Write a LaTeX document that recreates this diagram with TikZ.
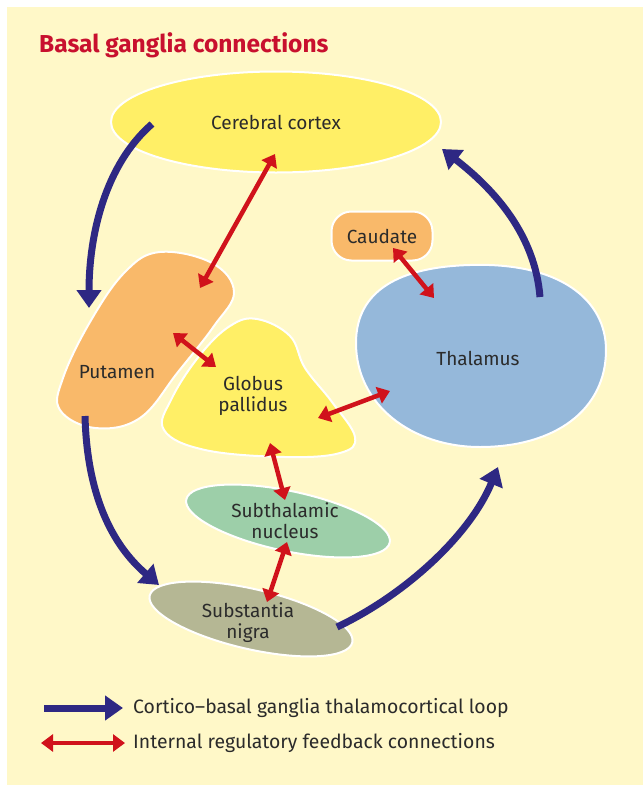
\documentclass[tikz,border=0pt]{standalone}
\usepackage{fontspec}
\setmainfont{Fira Sans}
\usepackage{xcolor}
\usetikzlibrary{arrows.meta,shapes.geometric}
\definecolor{panel}{HTML}{FFF8C8}
\definecolor{cortexyel}{HTML}{FFEF66}
\definecolor{putorange}{HTML}{F9B96A}
\definecolor{thalblue}{HTML}{95B8DA}
\definecolor{stngreen}{HTML}{9DCFA9}
\definecolor{snolive}{HTML}{B5B794}
\definecolor{loopblue}{HTML}{2E2883}
\definecolor{fbred}{HTML}{D0121B}
\definecolor{titlered}{HTML}{C8102E}
\definecolor{txt}{HTML}{2B2B2B}
\tikzset{
  brainpart/.style={draw=white,line width=2pt},
  lbl/.style={text=txt,font=\fontsize{19}{21}\selectfont,align=center,inner sep=0pt},
  cbgloop/.style={draw=loopblue,line width=7pt,-{Triangle[length=18pt,width=24pt]}},
  feedback/.style={draw=fbred,line width=4.5pt,{Triangle[length=12pt,width=17pt]}-{Triangle[length=12pt,width=17pt]}},
}

\begin{document}
\begin{tikzpicture}[x=1pt,y=-1pt]
\useasboundingbox (0,0) rectangle (643,785);
\fill[panel] (7,7) rectangle (643,785);
\node[anchor=west,text=titlered,font=\fontsize{24.5}{27}\selectfont\bfseries,inner sep=0pt] (title) at (39,45) {Basal ganglia connections};

% regions
\node[ellipse,brainpart,fill=cortexyel,minimum width=330pt,minimum height=101pt,inner sep=0pt] (cortex) at (276,122) {};
\node[rectangle,rounded corners=20pt,brainpart,fill=putorange,minimum width=101pt,minimum height=49pt] (caudate) at (382,236) {};
\draw[brainpart,fill=thalblue] (470,265) .. controls (560,262) and (606,300) .. (606,350)
  .. controls (606,410) and (555,447) .. (480,447) .. controls (412,447) and (356,405) .. (356,343)
  .. controls (356,290) and (400,267) .. cycle;
\draw[brainpart,fill=putorange] plot[smooth cycle,tension=0.65] coordinates {(160,252) (212,263) (234,292) (214,326) (178,372) (140,418) (95,428) (60,410) (63,378) (90,322) (125,272)};
\draw[brainpart,fill=cortexyel] plot[smooth cycle,tension=0.65] coordinates {(257,319) (290,336) (305,368) (332,402) (355,437) (340,453) (285,457) (205,450) (164,430) (172,398) (200,355) (230,326)};
\node[ellipse,brainpart,fill=stngreen,minimum width=208pt,minimum height=60pt,inner sep=0pt,rotate=-12] (stn) at (288,521) {};
\node[ellipse,brainpart,fill=snolive,minimum width=208pt,minimum height=60pt,inner sep=0pt,rotate=-13] (nigra) at (251,619) {};

% labels
\node[lbl] (cortexlbl) at (cortex.center) {Cerebral cortex};
\node[lbl] (caudatelbl) at (caudate.center) {Caudate};
\node[lbl] (thallbl) at (478,358) {Thalamus};
\node[lbl] (putlbl) at (117,372) {Putamen};
\node[lbl] (gplbl) at (253,396) {Globus\\pallidus};
\node[lbl] (stnlbl) at (285,521) {Subthalamic\\nucleus};
\node[lbl] (nigralbl) at (248,623) {Substantia\\nigra};

% loop
\coordinate (ctxout) at (152,124); \coordinate (putin) at (89,308);
\coordinate (putout) at (85,416); \coordinate (snin) at (159,585);
\coordinate (snout) at (337,627); \coordinate (thalin) at (498,467);
\coordinate (thalout) at (540,297); \coordinate (ctxin) at (442,149);
\draw[cbgloop] (ctxout) .. controls (105,165) and (89,235) .. (putin);
\draw[cbgloop] (putout) .. controls (87,495) and (112,545) .. (snin);
\draw[cbgloop] (snout) .. controls (405,595) and (470,535) .. (thalin);
\draw[cbgloop] (thalout) .. controls (535,235) and (495,190) .. (ctxin);

% feedback
\coordinate (ctxfb) at (275,154); \coordinate (putfbA) at (200,288);
\coordinate (caufb) at (393,248); \coordinate (thalfbA) at (434,298);
\coordinate (putfbB) at (173,333); \coordinate (gpfbA) at (216,367);
\coordinate (gpfbB) at (318,418); \coordinate (thalfbB) at (390,391);
\coordinate (gpfbC) at (270,443); \coordinate (stnfbA) at (285,500);
\coordinate (stnfbB) at (287,542); \coordinate (snfb) at (267,602);
\draw[feedback] (ctxfb) -- (putfbA);
\draw[feedback] (caufb) -- (thalfbA);
\draw[feedback] (putfbB) -- (gpfbA);
\draw[feedback] (gpfbB) -- (thalfbB);
\draw[feedback] (gpfbC) -- (stnfbA);
\draw[feedback] (stnfbB) -- (snfb);

% legend
\coordinate (legA) at (44,708); \coordinate (legB) at (123,708);
\coordinate (legC) at (41,743); \coordinate (legD) at (125,743);
\draw[cbgloop] (legA) -- (legB);
\draw[feedback] (legC) -- (legD);
\node[lbl,anchor=west,font=\fontsize{19.4}{21}\selectfont] (loopkey) at (133,708) {Cortico--basal ganglia thalamocortical loop};
\node[lbl,anchor=west,font=\fontsize{19.4}{21}\selectfont] (fbkey) at (133,743) {Internal regulatory feedback connections};
\end{tikzpicture}
\end{document}
